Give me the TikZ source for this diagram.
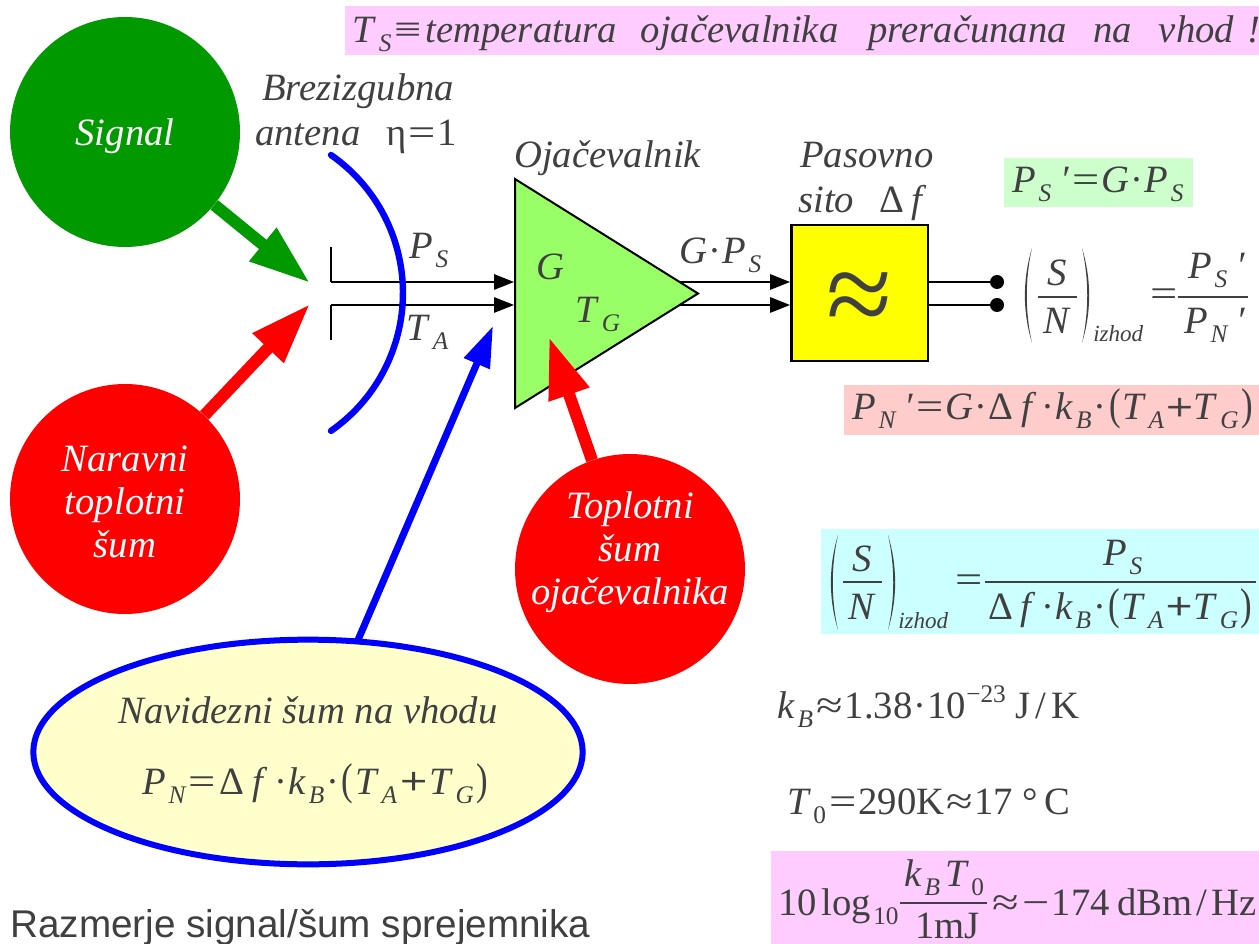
\documentclass[tikz,border=0pt]{standalone}
\usepackage{fontspec}
\usepackage{graphicx}
\setmainfont{Liberation Serif}
\setsansfont{Liberation Sans}
\usetikzlibrary{arrows.meta,shapes.geometric}
\definecolor{ink}{HTML}{404040}
\definecolor{sgreen}{HTML}{009900}
\definecolor{lgreen}{HTML}{99FF66}
\definecolor{pureyellow}{HTML}{FFFF00}
\definecolor{purered}{HTML}{FF0000}
\definecolor{pureblue}{HTML}{0000FF}
\definecolor{lpink}{HTML}{FFCCFF}
\definecolor{lgr}{HTML}{CCFFCC}
\definecolor{lred}{HTML}{FFCCCC}
\definecolor{lcyan}{HTML}{CCFFFF}
\definecolor{lyel}{HTML}{FFFFCC}
\newcommand\I[1]{\textit{#1}}
\newcommand\sbs[1]{\kern.07em\raisebox{-6.75pt}{\fontsize{19}{19}\selectfont\itshape #1}\kern.03em}
\newcommand\sbu[1]{\kern.06em\raisebox{-6.75pt}{\fontsize{19}{19}\selectfont #1}\kern.03em}
\newcommand\OP[1]{\kern.05em\scalebox{1.25}[1]{#1}\kern.05em}
\newcommand\EQ{\OP{=}}
\newcommand\PLUS{\kern.03em\scalebox{1.2}[1]{\addfontfeatures{FakeBold=1.5}+}\kern.03em}
\newcommand\LP{\kern.03em\scalebox{.9}[1.15]{(}\kern.04em}
\newcommand\RP{\kern.04em\scalebox{.9}[1.15]{)}}
\newcommand\PS{\I{P}\sbs{S}}
\newcommand\PN{\I{P}\sbs{N}}
\newcommand\TA{\I{T}\sbs{A}}
\newcommand\TG{\I{T}\sbs{G}}
\newcommand\KB{\I{k}\sbs{B}}
\newcommand\DF{Δ\kern.2em\I{f}\kern.1em}
\newcommand\DOT{\kern.03em·\kern.03em}
\newcommand\TP{\kern.2em\I{′}\kern.03em}
\newcommand\BigPar[4]{\fill[ink] (#1,#2) .. controls ({#1+#4*9.5},{#2+(#3-#2)*.33}) and ({#1+#4*9.5},{#2+(#3-#2)*.67}) .. (#1,#3) .. controls ({#1+#4*7},{#2+(#3-#2)*.67}) and ({#1+#4*7},{#2+(#3-#2)*.33}) .. cycle;}
\tikzset{
  txt/.style={anchor=base west,text=ink,inner sep=0pt,font=\fontsize{29}{32}\selectfont},
  ctxt/.style={txt,anchor=base},
  itx/.style={txt,font=\fontsize{29}{32}\selectfont\itshape},
  sml/.style={txt,font=\fontsize{17.3}{18}\selectfont\itshape},
  disc/.style={circle,fill=#1,draw=none,minimum size=172.5pt,inner sep=0pt},
  disclabel/.style={anchor=center,inner sep=0pt,align=center,text=white,font=\fontsize{29}{32.3}\selectfont\itshape},
  bigarrow/.style={draw=#1,line width=9pt,-{Triangle[length=45.75pt,width=30pt,fill=#1]}},
  wire/.style={draw=black,line width=1.5pt},
  sigarrow/.style={wire,-{Triangle[length=15pt,width=11.5pt]}},
  fracbar/.style={draw=ink,line width=1.1pt},
}
\begin{document}
\begin{tikzpicture}[x=0.75pt,y=-0.75pt]
\useasboundingbox (0,0) rectangle (1259,944);
% backgrounds
\fill[white] (0,0) rectangle (1259,944);
\fill[lpink] (345,6) rectangle (1259,55);
\fill[lgr] (1004,158) rectangle (1193,207);
\fill[lred] (844,385) rectangle (1259,435);
\fill[lcyan] (821,529) rectangle (1259,634);
\fill[lpink] (771,851) rectangle (1259,944);
% coordinates
\coordinate (a1) at (331,282); \coordinate (a2) at (331,305);
\coordinate (a1t) at (331,247); \coordinate (a2b) at (331,340);
\coordinate (ti1) at (514,282); \coordinate (ti2) at (514,305);
\coordinate (to1) at (680,282); \coordinate (to2) at (680,305);
\coordinate (tipsig) at (310,283); \coordinate (tipnoi) at (310,304);
\coordinate (tipapp) at (493,326); \coordinate (tipamp) at (549,337);
\coordinate (appS) at (358,640);
% wires
\draw[wire,line cap=butt] (a1t) -- (a1);
\draw[wire,line cap=butt] (a2b) -- (a2);
\draw[sigarrow] (a1) -- (ti1);
\draw[sigarrow] (a2) -- (ti2);
% antenna
\draw[draw=pureblue,line width=4.8pt,line cap=round] (331,155) arc[start angle=-55.1,end angle=55.1,radius=168.2];
% amplifier
\filldraw[fill=lgreen,draw=black,line width=1.5pt,line join=miter] (515,179) -- (698,293.5) -- (515,408) -- cycle;
% filter
\node[draw=black,fill=pureyellow,line width=2pt,minimum width=102.5pt,minimum height=102pt,inner sep=0pt,anchor=center] (filt) at (859.5,293) {};
\node[anchor=center,text=ink,inner sep=0pt,font=\fontsize{90}{90}\selectfont] (approx) at (859.5,304) {≈};
\coordinate (fi1) at (790,282); \coordinate (fi2) at (790,305);
\coordinate (fo1) at (929,282); \coordinate (fo2) at (929,305);
\draw[sigarrow] (to1) -- (fi1);
\draw[sigarrow] (to2) -- (fi2);
\node[circle,fill=black,minimum size=10.5pt,inner sep=0pt] (d1) at (997,282) {};
\node[circle,fill=black,minimum size=10.5pt,inner sep=0pt] (d2) at (997,305) {};
\draw[wire] (fo1) -- (d1);
\draw[wire] (fo2) -- (d2);
% discs
\node[disc=sgreen] (sig) at (125,132) {};
\node[disc=purered] (noi) at (125,499) {};
\node[disc=purered] (amn) at (630,569) {};
\node[disclabel] (sigl) at (125,136) {Signal};
\node[disclabel] (noil) at (125,502) {Naravni\\toplotni\\šum};
\node[disclabel] (amnl) at (630,552) {Toplotni\\šum\\ojačevalnika};
\node[ellipse,fill=lyel,draw=pureblue,line width=4.5pt,minimum width=412pt,minimum height=168.5pt,inner sep=0pt] (app) at (308,752) {};
% big arrows
\draw[bigarrow=sgreen] (sig) -- (tipsig);
\draw[bigarrow=purered] (noi) -- (tipnoi);
\draw[draw=pureblue,line width=5.25pt,-{Triangle[length=30.75pt,width=20pt]}] (appS) -- (tipapp);
\draw[bigarrow=purered] (amn) -- (tipamp);
% labels
\node[itx] (l1) at (262,101) {Brezizgubna};
\node[itx] (l2) at (255,146) {antena};
\node[txt] (l3) at (386,146) {η\EQ1};
\node[itx] (l4) at (514,168) {Ojačevalnik};
\node[itx] (l5) at (800,168) {Pasovno};
\node[itx] (l6) at (798,213) {sito};
\node[txt] (l7) at (879,213) {Δ\kern.2em\I{f}};
\node[txt] (l8) at (409,259) {\PS};
\node[txt] (l9) at (406,341) {\TA};
\node[txt] (l10) at (536,280) {\I{G}};
\node[txt] (l11) at (575,323) {\TG};
\node[txt] (l12) at (679,264) {\I{G}\DOT\PS};
% title
\node[txt] (title) at (352,43) {\I{T}\sbs{S}\OP{≡}\kern.05em\I{temperatura\hspace{.62em}ojačevalnika\hspace{.78em}preračunana\hspace{.68em}na\hspace{.7em}vhod\hspace{.35em}!}};
% equations
\node[txt] (e1) at (1012,193) {\PS\TP\EQ\I{G}\DOT\PS};
% first S/N
\BigPar{1032}{248}{343}{-1}
\BigPar{1082}{248}{343}{1}
\node[ctxt] (s1) at (1057,286) {\I{S}};
\node[ctxt] (n1) at (1057,334) {\I{N}};
\draw[fracbar] (1038,297) -- (1077,297);
\node[sml] (iz1) at (1093,342) {izhod};
\node[txt] (eq1) at (1148,307) {\EQ};
\node[txt] (ps1) at (1188,279) {\PS\TP};
\node[txt] (pn1) at (1184,334) {\PN\TP};
\draw[fracbar] (1178,297) -- (1248,297);
\node[txt] (e2) at (852,420) {\PN\TP\EQ\I{G}\DOT\DF\DOT\KB\DOT\LP\TA\PLUS\TG\RP};
% cyan
\BigPar{838}{535}{630}{-1}
\BigPar{888}{535}{630}{1}
\node[ctxt] (s2) at (862,571) {\I{S}};
\node[ctxt] (n2) at (862,619) {\I{N}};
\draw[fracbar] (843,582) -- (882,582);
\node[sml] (iz2) at (898,628) {izhod};
\node[txt] (eq2) at (953,592) {\EQ};
\node[txt] (ps2) at (1103,565) {\PS};
\node[txt] (den2) at (988,619) {\DF\DOT\KB\DOT\LP\TA\PLUS\TG\RP};
\draw[fracbar] (985,582) -- (1256,582);
% constants
\node[txt] (kb) at (777,718) {\KB\OP{≈}1.38\DOT10\raisebox{12pt}{\fontsize{19}{20}\selectfont −23}\kern.25em J\kern.13em/\kern.13em K};
\node[txt] (t0) at (787,814) {\I{T}\sbu{0}\EQ290K\OP{≈}17\kern.25em°\kern.15em C};
\node[txt] (lg) at (778,915) {10\kern.12em log\sbu{10}};
\node[txt] (fn) at (904,886) {\KB\kern.1em\I{T}\sbu{0}};
\draw[fracbar] (900,903) -- (987,903);
\node[txt] (fd) at (915,938) {1mJ};
\node[txt] (res) at (990,915) {\OP{≈}\OP{−}174\kern.2em dBm\kern.1em/\kern.1em Hz};
% ellipse text
\node[ctxt,font=\fontsize{29}{32}\selectfont\itshape] (nv) at (308,723) {Navidezni šum na vhodu};
\node[txt] (pnf) at (142,794) {\PN\EQ\kern.05em\DF\kern.05em\DOT\KB\DOT\LP\TA\kern.03em\PLUS\kern.03em\TG\RP};
% caption
\node[anchor=base west,inner sep=0pt,text=ink,font=\sffamily\fontsize{29}{32}\selectfont] (cap) at (10,937) {Razmerje signal/šum sprejemnika};
\end{tikzpicture}
\end{document}
